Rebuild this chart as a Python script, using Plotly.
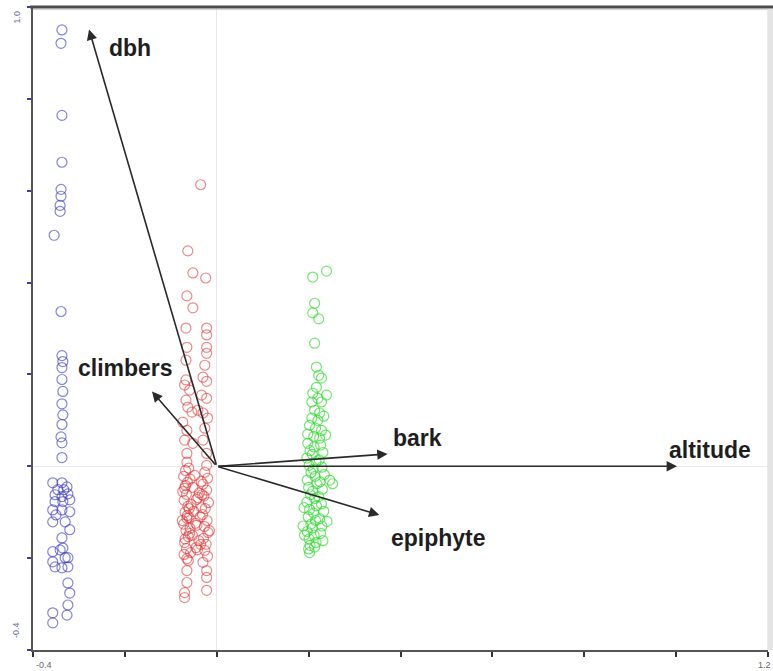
import plotly.graph_objects as go

# ---- data ----
blue_x = [-0.337, -0.339, -0.337, -0.337, -0.339, -0.339, -0.341, -0.341, -0.354, -0.339,
          -0.337, -0.335, -0.337, -0.337, -0.335, -0.337, -0.335, -0.337, -0.339, -0.337,
          -0.337, -0.357, -0.337, -0.326, -0.346, -0.333, -0.324, -0.352, -0.337, -0.320,
          -0.352, -0.335, -0.357, -0.337, -0.320, -0.350, -0.357, -0.330, -0.320, -0.337,
          -0.357, -0.341, -0.335, -0.324, -0.357, -0.330, -0.352, -0.337, -0.324, -0.324,
          -0.320, -0.324, -0.326, -0.357, -0.357]
blue_y = [0.950, 0.921, 0.764, 0.662, 0.603, 0.588, 0.568, 0.555, 0.503, 0.337,
          0.241, 0.228, 0.215, 0.189, 0.163, 0.136, 0.112, 0.091, 0.064, 0.051,
          0.019, -0.036, -0.036, -0.045, -0.051, -0.051, -0.060, -0.062, -0.066, -0.073,
          -0.077, -0.077, -0.095, -0.095, -0.099, -0.106, -0.121, -0.121, -0.138, -0.156,
          -0.186, -0.182, -0.178, -0.199, -0.208, -0.199, -0.219, -0.221, -0.219, -0.254,
          -0.276, -0.302, -0.324, -0.319, -0.341]

red_x = [-0.035, -0.063, -0.052, -0.024, -0.065, -0.052, -0.067, -0.022, -0.022, -0.065,
         -0.022, -0.022, -0.067, -0.026, -0.030, -0.067, -0.022, -0.070, -0.059, -0.033,
         -0.067, -0.022, -0.063, -0.041, -0.054, -0.030, -0.020, -0.074, -0.026, -0.065,
         -0.070, -0.052, -0.030, -0.065, -0.022, -0.065, -0.022,
         -0.068, -0.072, -0.064, -0.070, -0.066, -0.071, -0.063, -0.069, -0.065, -0.072,
         -0.067, -0.062, -0.070, -0.066, -0.071,
         -0.026, -0.020, -0.030, -0.022, -0.028, -0.018, -0.025, -0.031, -0.021, -0.027,
         -0.019, -0.029, -0.023, -0.026, -0.020,
         -0.048, -0.052, -0.044, -0.050, -0.046, -0.053, -0.045,
         -0.058, -0.038, -0.056, -0.036, -0.058, -0.039, -0.057, -0.074, -0.075, -0.016, -0.062,
         -0.061, -0.034, -0.068, -0.041, -0.060, -0.033, -0.064, -0.043, -0.059, -0.035,
         -0.069, -0.042, -0.060, -0.032,
         -0.065, -0.030, -0.065, -0.022, -0.065, -0.022, -0.070, -0.022, -0.070]
red_y = [0.613, 0.469, 0.421, 0.410, 0.371, 0.345, 0.301, 0.301, 0.286, 0.259,
         0.259, 0.246, 0.231, 0.220, 0.194, 0.188, 0.185, 0.177, 0.166, 0.155,
         0.144, 0.148, 0.129, 0.122, 0.118, 0.116, 0.105, 0.096, 0.083, 0.078,
         0.057, 0.050, 0.057, 0.028, 0.028, 0.009, 0.002,
         -0.009, -0.022, -0.035, -0.048, -0.061, -0.074, -0.087, -0.100, -0.113, -0.126,
         -0.140, -0.153, -0.166, -0.179, -0.192,
         -0.013, -0.026, -0.039, -0.052, -0.065, -0.079, -0.092, -0.105, -0.118, -0.131,
         -0.144, -0.157, -0.170, -0.183, -0.196,
         -0.020, -0.046, -0.072, -0.098, -0.124, -0.150, -0.177,
         -0.028, -0.058, -0.083, -0.110, -0.135, -0.162, -0.188, -0.055, -0.118, -0.140, -0.205,
         -0.004, -0.033, -0.042, -0.068, -0.092, -0.090, -0.107, -0.128, -0.146, -0.170,
         -0.158, -0.182, -0.112, -0.062,
         -0.201, -0.209, -0.227, -0.227, -0.253, -0.242, -0.275, -0.270, -0.286]

green_x = [0.239, 0.209, 0.213, 0.209, 0.222, 0.213, 0.217, 0.222, 0.228, 0.217,
           0.209, 0.239, 0.220, 0.207, 0.228, 0.213, 0.224, 0.207, 0.220, 0.233,
           0.202, 0.215, 0.228, 0.198, 0.211, 0.224, 0.237,
           0.198, 0.203, 0.196, 0.201, 0.205, 0.197, 0.200, 0.204, 0.196, 0.202,
           0.199, 0.205, 0.197, 0.201, 0.203,
           0.212, 0.208, 0.216, 0.210, 0.214, 0.218, 0.209, 0.213, 0.217, 0.211,
           0.215, 0.208, 0.212, 0.216,
           0.226, 0.231, 0.223, 0.229, 0.234, 0.225, 0.230, 0.222, 0.228, 0.233,
           0.224, 0.229, 0.226, 0.231,
           0.246, 0.252, 0.190, 0.188, 0.191, 0.240, 0.200, 0.213, 0.202]
green_y = [0.425, 0.412, 0.355, 0.334, 0.321, 0.268, 0.216, 0.198, 0.192, 0.172,
           0.159, 0.155, 0.148, 0.140, 0.140, 0.122, 0.116, 0.105, 0.100, 0.109,
           0.089, 0.083, 0.078, 0.070, 0.065, 0.061, 0.068,
           0.050, 0.034, 0.018, 0.002, -0.014, -0.030, -0.046, -0.062, -0.078, -0.094,
           -0.110, -0.126, -0.142, -0.158, -0.172,
           0.042, 0.026, 0.010, -0.006, -0.022, -0.038, -0.054, -0.070, -0.086, -0.102,
           -0.118, -0.134, -0.150, -0.166,
           0.046, 0.030, 0.014, -0.002, -0.018, -0.034, -0.050, -0.066, -0.082, -0.098,
           -0.114, -0.130, -0.146, -0.162,
           -0.030, -0.038, -0.090, -0.130, -0.150, -0.120, -0.180, -0.176, -0.188]

arrow_names = ["dbh", "climbers", "bark", "altitude", "epiphyte"]
arrow_x = [-0.278, -0.141, 0.372, 1.002, 0.354]
arrow_y = [0.951, 0.163, 0.027, 0.0, -0.106]
label_x = [-0.189, -0.198, 0.437, 1.074, 0.483]
label_y = [0.911, 0.215, 0.062, 0.035, -0.156]

x_ticks = [-0.4, -0.2, 0.0, 0.2, 0.4, 0.6, 0.8, 1.0, 1.2]
y_ticks = [-0.4, -0.2, 0.0, 0.2, 0.4, 0.6, 0.8, 1.0]

fig = go.Figure()

def add_group(xs, ys, color):
    fig.add_trace(go.Scatter(
        x=xs, y=ys, mode="markers",
        marker=dict(symbol="circle-open", size=10, color=color, line=dict(width=1.2, color=color)),
        showlegend=False, hoverinfo="skip"))

add_group(blue_x, blue_y, "rgba(50,50,190,0.6)")
add_group(red_x, red_y, "rgba(220,40,40,0.55)")
add_group(green_x, green_y, "rgba(40,215,40,0.65)")

for name, tx, ty, lx, ly in zip(arrow_names, arrow_x, arrow_y, label_x, label_y):
    fig.add_annotation(x=tx, y=ty, ax=0, ay=0, xref="x", yref="y", axref="x", ayref="y",
                       text="", showarrow=True, arrowhead=2, arrowsize=1.3, arrowwidth=1.6,
                       arrowcolor="#2a2a2a")
    fig.add_annotation(x=lx, y=ly, xref="x", yref="y", text="<b>%s</b>" % name,
                       showarrow=False,
                       font=dict(family="Liberation Sans, Arial, sans-serif", size=23, color="#1e1e1e"))

# axis end labels
fig.add_annotation(x=x_ticks[0], y=0, xref="x", yref="paper", yanchor="top", xanchor="left",
                   yshift=-8, xshift=1, text="-0.4", showarrow=False,
                   font=dict(family="Liberation Sans, Arial", size=9, color="#666"))
fig.add_annotation(x=x_ticks[-1], y=0, xref="x", yref="paper", yanchor="top", xanchor="right",
                   yshift=-8, xshift=5, text="1.2", showarrow=False,
                   font=dict(family="Liberation Sans, Arial", size=9, color="#666"))
fig.add_annotation(x=0, y=y_ticks[-1], xref="paper", yref="y", xanchor="right", yanchor="top",
                   xshift=-10, yshift=-2, text="1.0", textangle=-90, showarrow=False,
                   font=dict(family="Liberation Sans, Arial", size=9, color="#6a6a9a"))
fig.add_annotation(x=0, y=y_ticks[0], xref="paper", yref="y", xanchor="right", yanchor="bottom",
                   xshift=-10, yshift=10, text="-0.4", textangle=-90, showarrow=False,
                   font=dict(family="Liberation Sans, Arial", size=9, color="#6a6a9a"))

# frame decorations
fig.add_shape(type="line", xref="paper", yref="paper", x0=-0.004, x1=1.01, y0=1.0, y1=1.0,
              line=dict(color="#4a4a4a", width=3))
fig.add_shape(type="line", xref="paper", yref="paper", x0=0, x1=1.01, y0=0.996, y1=0.996,
              line=dict(color="#d0d0d0", width=1))
fig.add_shape(type="rect", xref="paper", yref="paper", x0=0.999, x1=1.01, y0=0.0, y1=0.997,
              line=dict(width=0), fillcolor="#e4e4e4")

fig.update_xaxes(range=[-0.4, 1.2], tickvals=x_ticks, ticks="outside", ticklen=5, tickwidth=2,
                 tickcolor="#333", showticklabels=False, showgrid=False,
                 showline=True, linecolor="#555", linewidth=2,
                 zeroline=True, zerolinecolor="#e8e8e8", zerolinewidth=1)
fig.update_yaxes(range=[-0.4, 1.0], tickvals=y_ticks, ticks="outside", ticklen=4, tickwidth=2,
                 tickcolor="#3b3bb0", showticklabels=False, showgrid=False,
                 showline=True, linecolor="#555", linewidth=2,
                 zeroline=True, zerolinecolor="#e8e8e8", zerolinewidth=1)

fig.update_layout(width=773, height=671, margin=dict(l=33, r=5, t=7, b=21),
                  plot_bgcolor="white", paper_bgcolor="white")

fig.write_html("out.html", config={"displayModeBar": False},
               post_script="document.body.style.margin='0';document.body.style.overflow='hidden';")
